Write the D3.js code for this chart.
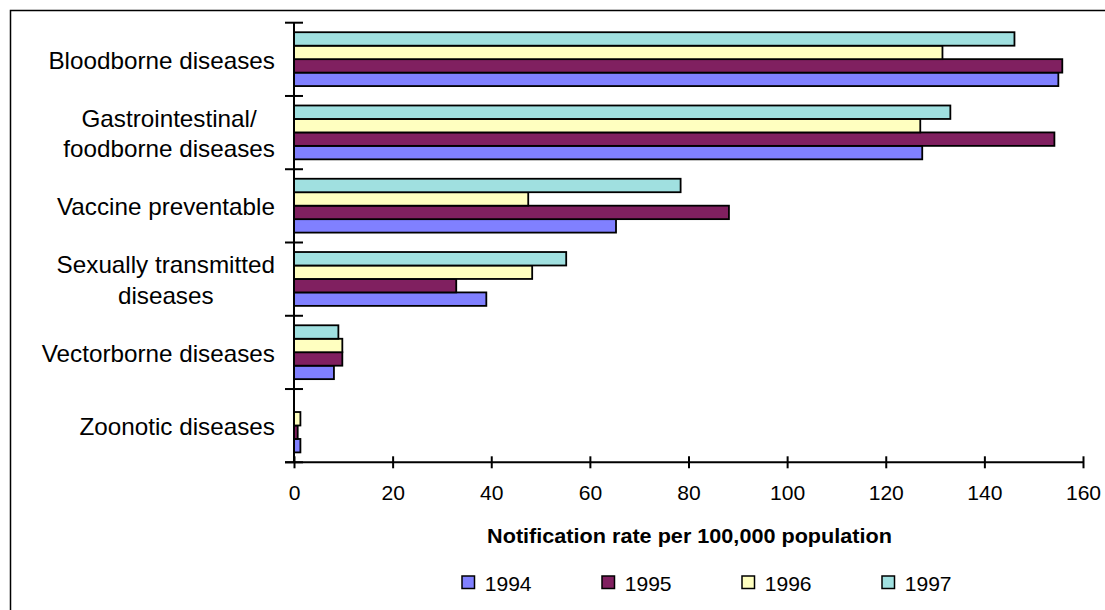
<!DOCTYPE html>
<html>
<head>
<meta charset="utf-8">
<script src="https://cdn.jsdelivr.net/npm/d3@7"></script>
<style>
  html, body { margin: 0; padding: 0; background: #fff; }
  svg { display: block; font-family: "Liberation Sans", Arial, sans-serif; }
</style>
</head>
<body>
<svg id="chart" width="1105" height="610"></svg>
<script>
// Notification rates per 100,000 population by disease group, 1994-1997
const categories = [
  "Bloodborne diseases",
  "Gastrointestinal/\nfoodborne diseases",
  "Vaccine preventable",
  "Sexually transmitted\ndiseases",
  "Vectorborne diseases",
  "Zoonotic diseases"
];
const years = ["1994", "1995", "1996", "1997"];
const rate1994 = [155.0, 127.4, 65.3, 39.0, 8.1, 1.3];
const rate1995 = [155.8, 154.2, 88.2, 32.9, 9.8, 0.75];
const rate1996 = [131.5, 127.0, 47.5, 48.3, 9.8, 1.3];
const rate1997 = [146.1, 133.1, 78.4, 55.2, 9.0, 0];
const xTicks = [0, 20, 40, 60, 80, 100, 120, 140, 160];
const colors = ["#8080ff", "#802060", "#ffffc0", "#a0e0e0"];
const xTitle = "Notification rate per 100,000 population";

const seriesValues = [rate1994, rate1995, rate1996, rate1997];
const rows = categories.map((c, i) => ({
  category: c,
  values: years.map((y, j) => ({ year: y, value: seriesValues[j][i], color: colors[j] }))
}));

// Text is set slightly wide, as in the original workbook export
const textStretch = 1.055;

const svg = d3.select("#chart");

// Outer chart frame
svg.append("rect")
  .attr("x", 10.5).attr("y", 10.5)
  .attr("width", 1200).attr("height", 700)
  .attr("fill", "none").attr("stroke", "#000").attr("stroke-width", 1.5);

const plot = { left: 294, right: 1083, top: 22.7, bottom: 462.3 };

const x = d3.scaleLinear().domain([0, 160]).range([plot.left, plot.right]);
const y0 = d3.scaleBand().domain(categories).range([plot.top, plot.bottom]).padding(0);
const step = y0.step();
// Within a category, 1997 sits on top and 1994 at the bottom
const y1 = d3.scaleBand().domain(years.slice().reverse())
  .range([step * 0.13, step * 0.865]).padding(0);

// Bars
const groups = svg.append("g").selectAll("g")
  .data(rows).join("g")
  .attr("transform", d => `translate(0,${y0(d.category)})`);

groups.selectAll("rect")
  .data(d => d.values.filter(v => v.value > 0))
  .join("rect")
  .attr("x", x(0))
  .attr("y", d => y1(d.year))
  .attr("width", d => x(d.value) - x(0))
  .attr("height", y1.bandwidth())
  .attr("fill", d => d.color)
  .attr("stroke", "#000")
  .attr("stroke-width", 1.8);

// Y axis line and category separators
const yAxisG = svg.append("g");
yAxisG.append("line")
  .attr("x1", x(0)).attr("x2", x(0))
  .attr("y1", plot.top).attr("y2", plot.bottom)
  .attr("stroke", "#000").attr("stroke-width", 2);
const sepPositions = categories.map(c => y0(c)).concat([plot.bottom]);
yAxisG.selectAll("line.sep")
  .data(sepPositions).join("line")
  .attr("class", "sep")
  .attr("x1", x(0) - 9).attr("x2", x(0) + 9)
  .attr("y1", d => d).attr("y2", d => d)
  .attr("stroke", "#000").attr("stroke-width", 2);

// X axis
const xAxis = d3.axisBottom(x).tickValues(xTicks).tickSize(0).tickPadding(0).tickFormat(d3.format("d"));
const xAxisG = svg.append("g").attr("transform", `translate(0,${plot.bottom})`).call(xAxis);
xAxisG.select(".domain").remove();
xAxisG.append("line")
  .attr("x1", x(0) - 9).attr("x2", plot.right)
  .attr("y1", 0).attr("y2", 0)
  .attr("stroke", "#000").attr("stroke-width", 2);
xAxisG.selectAll(".tick").append("line")
  .attr("y1", -6).attr("y2", 6)
  .attr("stroke", "#000").attr("stroke-width", 2);
xAxisG.selectAll(".tick text")
  .attr("y", 38)
  .attr("dy", null)
  .attr("fill", "#000")
  .attr("transform", `scale(${textStretch},1)`)
  .style("font-size", "20px")
  .style("font-family", "'Liberation Sans', Arial, sans-serif");

// Category labels: block right-aligned against the axis, lines centred within it
const labelRight = 275;
const labelSize = 23;
const lineGap = 30.5;
const measure = svg.append("text").style("font-size", labelSize + "px").attr("visibility", "hidden");
categories.forEach(c => {
  const lines = c.split("\n");
  const widths = lines.map(l => { measure.text(l); return measure.node().getComputedTextLength() * textStretch; });
  const maxW = d3.max(widths);
  const cx = labelRight - maxW / 2;
  const cy = y0(c) + step / 2 + 1;
  const t = svg.append("g")
    .attr("transform", `translate(${cx},${cy}) scale(${textStretch},1)`)
    .append("text")
    .attr("text-anchor", "middle")
    .style("font-size", labelSize + "px")
    .attr("fill", "#000");
  lines.forEach((l, i) => {
    const baseline = labelSize * 0.358 + (i - (lines.length - 1) / 2) * lineGap;
    t.append("tspan").attr("x", 0).attr("y", baseline).text(l);
  });
});
measure.remove();

// Axis title
svg.append("g")
  .attr("transform", `translate(${(plot.left + plot.right) / 2 + 1},543) scale(${textStretch},1)`)
  .append("text")
  .attr("text-anchor", "middle")
  .style("font-size", "20.5px")
  .style("font-weight", "bold")
  .text(xTitle);

// Legend
const legend = svg.append("g").selectAll("g")
  .data(years).join("g")
  .attr("transform", (d, i) => `translate(${462 + i * 140},576)`);
legend.append("rect")
  .attr("width", 12.5).attr("height", 12.5)
  .attr("fill", (d, i) => colors[i])
  .attr("stroke", "#000").attr("stroke-width", 1.5);
legend.append("text")
  .attr("x", 21.5).attr("y", 15)
  .attr("transform", `scale(${textStretch},1)`)
  .style("font-size", "20px")
  .text(d => d);
</script>
</body>
</html>
